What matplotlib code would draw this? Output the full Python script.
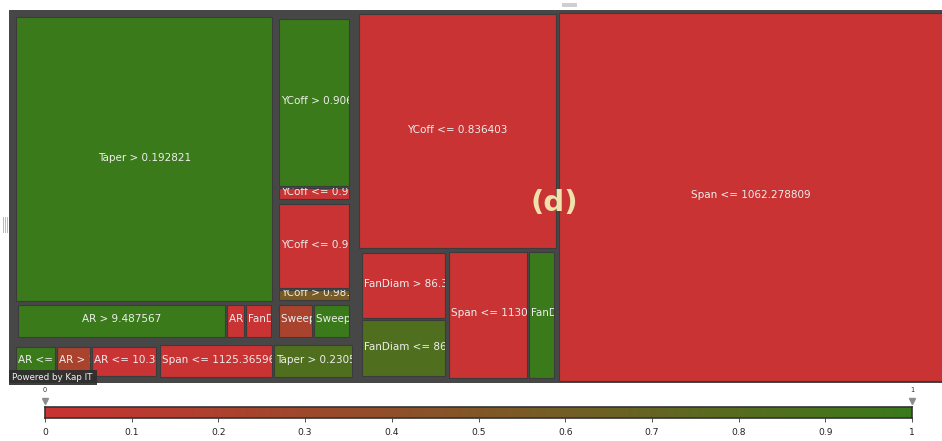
import matplotlib
matplotlib.use("Agg")
import matplotlib.pyplot as plt
import numpy as np
from matplotlib.colors import LinearSegmentedColormap
from matplotlib.patches import Rectangle

# leaf nodes of the decision-tree treemap
labels = [
    "Taper > 0.192821", "AR > 9.487567", "AR <= 9.487567", "FanDiam <= 85.91",
    "YCoff > 0.906213", "YCoff <= 0.906213", "YCoff <= 0.981552", "YCoff > 0.981552",
    "Sweep <= 31.25", "Sweep > 31.25",
    "AR <= 8.61", "AR > 10.34", "AR <= 10.34", "Span <= 1125.365967", "Taper > 0.230512",
    "YCoff <= 0.836403", "FanDiam > 86.35", "FanDiam <= 86.35", "Span <= 1130.52",
    "FanDiam > 92.1", "Span <= 1062.278809",
]
sizes = [787, 85, 7.4, 11, 142, 11, 73, 9.6, 15, 16,
         16, 14, 26, 44, 31, 485, 65, 56, 110, 37, 1436]
scores = [1.0, 1.0, 0.0, 0.0, 1.0, 0.0, 0.0, 0.57, 0.22, 1.0,
          1.0, 0.22, 0.0, 0.0, 0.85, 0.0, 0.0, 0.85, 0.0, 1.0, 0.0]
parents = [
    "L/top/a", "L/top/a/row", "L/top/a/row", "L/top/a/row",
    "L/top/b/y1", "L/top/b/y1", "L/top/b/y2", "L/top/b/y2",
    "L/top/b/sw", "L/top/b/sw",
    "L/bot/ar", "L/bot/ar", "L/bot/ar", "L/bot", "L/bot",
    "M", "M/bot/fd", "M/bot/fd", "M/bot", "M/bot", "",
]
cbar_ticks = [0, 0.1, 0.2, 0.3, 0.4, 0.5, 0.6, 0.7, 0.8, 0.9, 1]

# split direction of each group: h = side by side, v = stacked
splits = {"": "h", "L": "v", "L/top": "h", "L/top/a": "v", "L/top/a/row": "h",
          "L/top/b": "v", "L/top/b/y1": "v", "L/top/b/y2": "v", "L/top/b/sw": "h",
          "L/bot": "h", "L/bot/ar": "h", "M": "v", "M/bot": "h", "M/bot/fd": "v"}

cmap = LinearSegmentedColormap.from_list("rg", ["#C93333", "#3A7A1B"])
frame = "#474747"

# build the hierarchy from the parent paths
children = {}
for i, p in enumerate(parents):
    parts = p.split("/") if p else []
    for k in range(len(parts)):
        par = "/".join(parts[:k])
        node = "/".join(parts[:k + 1])
        children.setdefault(par, [])
        if ("g", node) not in children[par]:
            children[par].append(("g", node))
    children.setdefault(p, []).append(("leaf", i))


def weight(item):
    kind, ref = item
    if kind == "leaf":
        return sizes[ref]
    return sum(weight(c) for c in children[ref])


def inset(r, d):
    x, y, w, h = r
    return (x + d, y + d, w - 2 * d, h - 2 * d)


placed = []


def place(node, rect):
    x, y, w, h = rect
    kids = children[node]
    tot = sum(weight(k) for k in kids)
    off = 0.0
    for k in kids:
        frac = weight(k) / tot
        if splits[node] == "h":
            r = (x + off * w, y, frac * w, h)
        else:
            r = (x, y + off * h, w, frac * h)
        off += frac
        if k[0] == "g":
            place(k[1], inset(r, 1.5))
        else:
            placed.append((k[1], inset(r, 1.0)))


fig = plt.figure(figsize=(9.42, 4.41), dpi=100)
W, H = 936, 373
ax = fig.add_axes([9 / 942, 1 - 383 / 441, W / 942, H / 441])
ax.set_xlim(0, W)
ax.set_ylim(H, 0)
ax.axis("off")
ax.add_patch(Rectangle((0, 0), W, H, facecolor=frame, edgecolor="none"))

place("", inset((0, 0, W, H), 1.5))

renderer = fig.canvas.get_renderer()
for i, (x, y, w, h) in placed:
    patch = Rectangle((x, y), w, h, facecolor=cmap(scores[i]),
                      edgecolor="#3b3b3b", linewidth=0.8)
    ax.add_patch(patch)
    t = ax.text(x + w / 2, y + h / 2 - 1.5, labels[i], ha="center", va="center",
                fontsize=7.5, color="#EEEEEE", fontfamily="DejaVu Sans")
    tw = t.get_window_extent(renderer).width
    if tw > w - 2:
        t.set_x(x + 2)
        t.set_ha("left")
    t.set_clip_on(True)
    t.set_clip_path(patch)

# overlay for panel tag and widget chrome
ov = fig.add_axes([0, 0, 1, 1], zorder=5)
ov.set_xlim(0, 942)
ov.set_ylim(441, 0)
ov.axis("off")
ov.patch.set_alpha(0)
ov.text(554, 203, "(d)", ha="center", va="center", fontsize=21,
        fontweight="bold", color="#EFE0AC")
ov.add_patch(Rectangle((9, 370), 88, 15, facecolor="#2e2e2e", edgecolor="none", alpha=0.92))
ov.text(12, 377.5, "Powered by Kap IT", ha="left", va="center", fontsize=6.3, color="#F2F2F2")
ov.add_patch(Rectangle((562, 3), 15, 4, facecolor="#CFCFCF", edgecolor="none"))
for gx in (2.5, 4.5, 6.5):
    ov.plot([gx, gx], [217, 232], color="#B8B8B8", lw=0.7)

# colour legend
cb = fig.add_axes([45 / 942, 1 - 418 / 441, 867 / 942, 11 / 441])
grad = np.linspace(0, 1, 256).reshape(1, -1)
cb.imshow(grad, cmap=cmap, aspect="auto", extent=[0, 1, 0, 1])
cb.set_xlim(0, 1)
cb.set_ylim(0, 1)
cb.set_yticks([])
cb.set_xticks(cbar_ticks)
cb.set_xticklabels([f"{v:g}" for v in cbar_ticks], fontsize=6.6, color="#222222",
                   fontfamily=["Liberation Sans Narrow", "DejaVu Sans"])
cb.tick_params(axis="x", length=3, width=0.6, color="#333333", pad=4)
for s in cb.spines.values():
    s.set_color("#333333")
    s.set_linewidth(1.2)
cb.plot([0, 1], [1.55, 1.55], linestyle="none", marker="v", markersize=5,
        color="#8C8C8C", clip_on=False)
for v in (0, 1):
    cb.text(v, 2.3, f"{v}", ha="center", va="bottom", fontsize=4.8, color="#333333")

fig.savefig("out.png", dpi=100)
